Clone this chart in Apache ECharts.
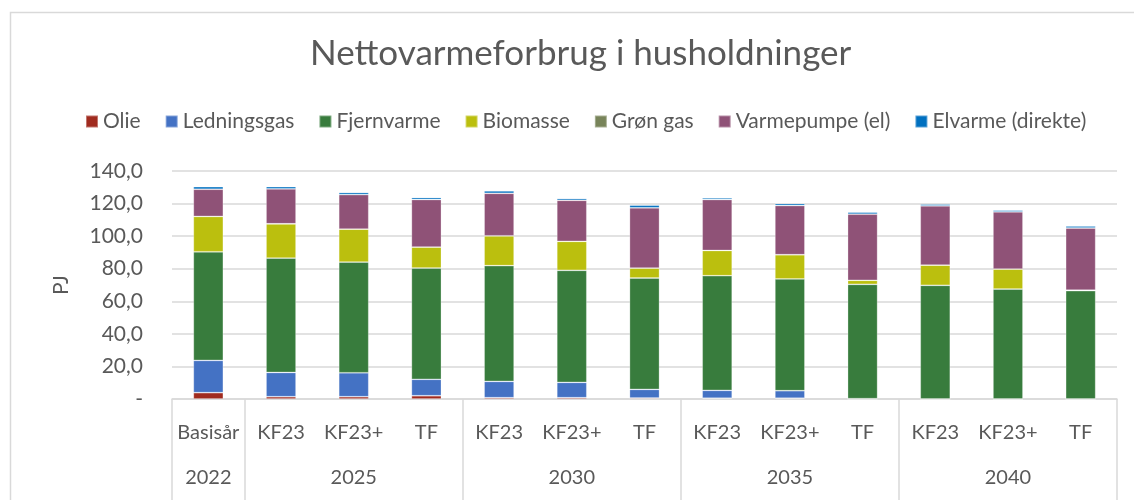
<!DOCTYPE html>
<html>
<head>
<meta charset="utf-8">
<script src="https://cdn.jsdelivr.net/npm/echarts@6/dist/echarts.min.js"></script>
<style>
  html, body { margin: 0; padding: 0; background: #fff; }
  #chart { width: 1134px; height: 500px; }
</style>
</head>
<body>
<div id="chart"></div>
<script>
const scenarios = ['Basisår', 'KF23', 'KF23+', 'TF', 'KF23', 'KF23+', 'TF', 'KF23', 'KF23+', 'TF', 'KF23', 'KF23+', 'TF'];
const years = ['2022', '', '2025', '', '', '2030', '', '', '2035', '', '', '2040', ''];
const groupStarts = [0, 1, 4, 7, 10];

const olie = [3.9, 1.4, 1.4, 2.0, 0.8, 0.8, 0.6, 0.5, 0.5, 0, 0, 0, 0];
const ledningsgas = [19.8, 14.9, 14.7, 10.1, 10.0, 9.4, 5.3, 4.8, 4.6, 0.2, 0, 0, 0];
const fjernvarme = [66.7, 70.2, 68.0, 68.3, 71.1, 68.8, 68.4, 70.4, 68.6, 70.2, 69.8, 67.5, 66.5];
const biomasse = [21.7, 21.1, 20.2, 12.9, 18.3, 17.8, 6.1, 15.5, 14.9, 2.5, 12.4, 12.3, 0.3];
const groenGas = [0, 0, 0, 0, 0, 0, 0, 0, 0, 0, 0, 0, 0];
const varmepumpe = [16.7, 21.4, 21.2, 29.2, 26.1, 25.2, 37.0, 31.3, 30.2, 40.6, 36.4, 35.1, 38.2];
const elvarme = [1.6, 1.4, 1.3, 1.2, 1.5, 1.1, 1.6, 1.0, 1.2, 1.2, 1.0, 1.0, 1.2];

const seriesDefs = [
  ['Olie', olie, '#A02B1F'],
  ['Ledningsgas', ledningsgas, '#4472C4'],
  ['Fjernvarme', fjernvarme, '#387C3D'],
  ['Biomasse', biomasse, '#BBBF0E'],
  ['Grøn gas', groenGas, '#78845A'],
  ['Varmepumpe (el)', varmepumpe, '#8F5277'],
  ['Elvarme (direkte)', elvarme, '#0070C0']
];

const font = 'Lato, "Open Sans", sans-serif';
const textColor = '#595959';
const lineColor = '#D9D9D9';

const chart = echarts.init(document.getElementById('chart'));
chart.setOption({
  animation: false,
  textStyle: { fontFamily: font },
  title: {
    text: 'Nettovarmeforbrug i husholdninger',
    left: 305,
    top: 31,
    textStyle: { fontFamily: font, fontSize: 35, fontWeight: 'normal', color: textColor }
  },
  legend: {
    top: 106,
    left: 80,
    icon: 'rect',
    itemWidth: 12,
    itemHeight: 12,
    itemGap: 24,
    textStyle: { fontFamily: font, fontSize: 21, color: textColor },
    data: seriesDefs.map(d => d[0])
  },
  graphic: [{
    type: 'rect',
    shape: { x: 10.5, y: 12.5, width: 1200, height: 600 },
    style: { fill: 'none', stroke: lineColor, lineWidth: 1.5 },
    silent: true
  }],
  grid: { left: 172, right: 17, top: 171, bottom: 101 },
  xAxis: [{
    type: 'category',
    data: scenarios,
    position: 'bottom',
    axisLine: { lineStyle: { color: lineColor, width: 1.5 } },
    axisTick: {
      show: true,
      length: 110,
      interval: (i) => groupStarts.indexOf(i) >= 0,
      lineStyle: { color: lineColor, width: 1.5 }
    },
    axisLabel: { interval: 0, margin: 24, fontSize: 20, color: textColor, fontFamily: font }
  }, {
    type: 'category',
    data: years,
    position: 'bottom',
    offset: 45,
    axisLine: { show: false },
    axisTick: { show: false },
    axisLabel: { interval: 0, margin: 24, fontSize: 20, color: textColor, fontFamily: font }
  }],
  yAxis: {
    type: 'value',
    min: 0,
    max: 140,
    interval: 20,
    name: 'PJ',
    nameLocation: 'middle',
    nameGap: 100,
    nameRotate: 90,
    nameTextStyle: { fontSize: 21, color: textColor, fontFamily: font },
    axisLine: { show: false },
    axisTick: { show: false },
    splitLine: { lineStyle: { color: lineColor, width: 1.5 } },
    axisLabel: {
      margin: 29,
      fontSize: 21,
      color: textColor,
      fontFamily: font,
      formatter: (v) => v === 0 ? '-' : v.toFixed(1).replace('.', ',')
    }
  },
  series: seriesDefs.map(([name, values, color]) => ({
    name: name,
    type: 'bar',
    stack: 'total',
    xAxisIndex: 0,
    barWidth: 30,
    data: values,
    itemStyle: { color: color, borderColor: 'rgba(255,255,255,0.35)', borderWidth: 0.8 }
  }))
});
</script>
</body>
</html>
